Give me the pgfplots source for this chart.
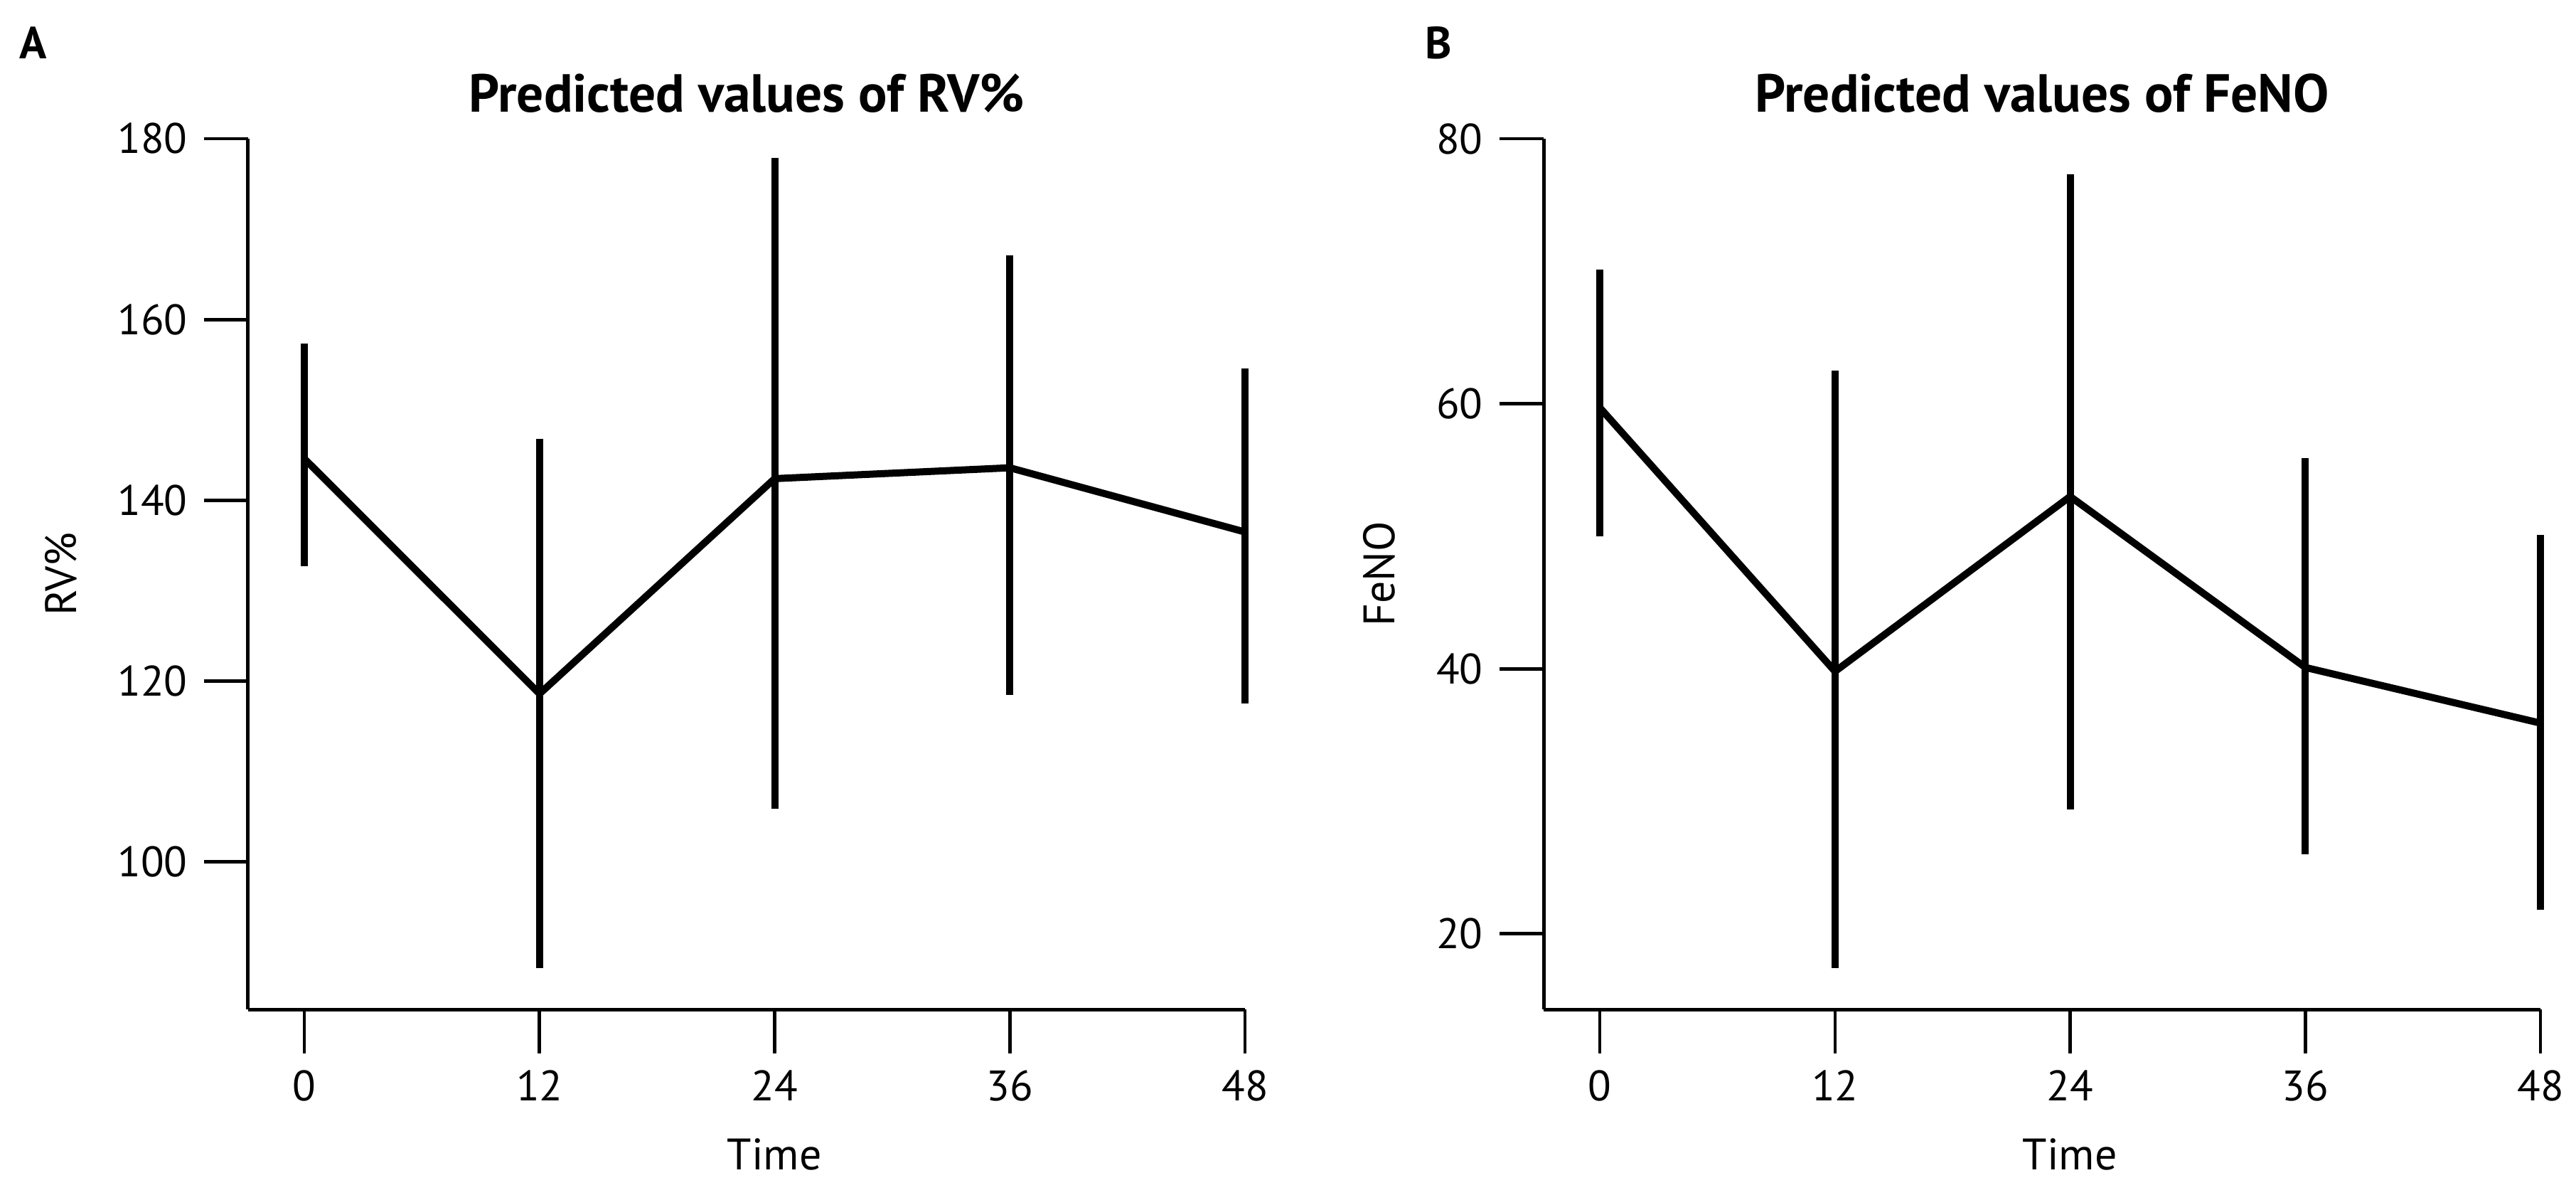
\documentclass[border=0pt]{standalone}
\usepackage{fontspec}
\setmainfont{PT Sans}
\usepackage{pgfplots}
\pgfplotsset{compat=1.18}
\usepackage{pgfplotstable}

% time, predicted mean, lower, upper
\pgfplotstableread{
t  m     lo    hi
0  144.6 132.7 157.3
12 118.6 88.3  146.8
24 142.4 105.9 177.9
36 143.6 118.5 167.1
48 136.5 117.5 154.6
}\datA
\pgfplotstableread{
t  m    lo   hi
0  59.7 50.0 70.1
12 39.8 17.4 62.5
24 53.0 29.4 77.3
36 40.1 26.0 55.9
48 35.9 21.8 50.1
}\datB

\pgfplotsset{
  panel/.style={
    scale only axis, width=210.3pt, height=183.6pt,
    axis lines=left, axis line style={-, line width=0.75pt},
    tick align=outside, major tick length=9.3pt,
    tick style={line width=0.7pt, black},
    xmin=-2.87, xmax=48, xtick={0,12,24,36,48},
    /pgf/number format/assume math mode=true,
    tick label style={font=\fontsize{9}{10}\selectfont},
    label style={font=\fontsize{9.3}{11}\selectfont},
    title style={font=\fontsize{11.3}{13}\selectfont\bfseries,
      at={(rel axis cs:0.5,1)}, anchor=center, yshift=3.6pt},
    xlabel style={at={([yshift=-30.6pt]rel axis cs:0.528,0)}, anchor=center},
    clip=false,
  },
  pline/.style={black, line width=1.5pt, line join=miter,
    error bars/.cd, y dir=both, y explicit, error mark=none,
    error bar style={line width=1.5pt}},
}

\begin{document}
\begin{tikzpicture}
\useasboundingbox (-52.35pt,-39pt) rectangle (491.1pt,212.85pt);

\begin{axis}[panel, at={(0pt,0pt)}, anchor=south west,
  ymin=83.7, ymax=180, ytick={100,120,140,160,180},
  title={Predicted values of RV\%}, xlabel={Time}, ylabel={RV\%},
  ylabel style={at={([xshift=-39.5pt]rel axis cs:0,0.5)}, anchor=center, rotate=0}]
\addplot[pline] table[x=t, y=m,
  y error plus expr=\thisrow{hi}-\thisrow{m},
  y error minus expr=\thisrow{m}-\thisrow{lo}] {\datA};
\end{axis}

\begin{axis}[panel, at={(273.3pt,0pt)}, anchor=south west,
  ymin=14.3, ymax=80, ytick={20,40,60,80},
  title={Predicted values of FeNO}, xlabel={Time}, ylabel={FeNO},
  ylabel style={at={([xshift=-34.7pt]rel axis cs:0,0.5)}, anchor=center, rotate=0}]
\addplot[pline] table[x=t, y=m,
  y error plus expr=\thisrow{hi}-\thisrow{m},
  y error minus expr=\thisrow{m}-\thisrow{lo}] {\datB};
\end{axis}

\node[font=\fontsize{9.5}{11}\selectfont\bfseries] at (-45.3pt,203.85pt) {A};
\node[font=\fontsize{9.5}{11}\selectfont\bfseries] at (251.1pt,203.85pt) {B};
\end{tikzpicture}
\end{document}
